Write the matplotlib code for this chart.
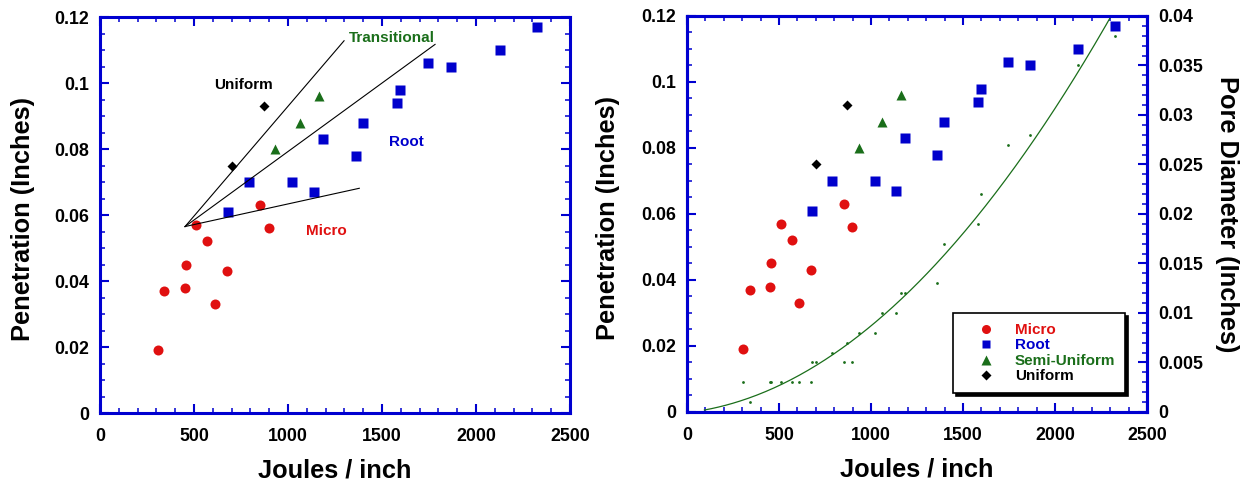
"""Penetration vs specific energy, with pore diameter overlay."""

import matplotlib

matplotlib.use("Agg")

import matplotlib.pyplot as plt
import numpy as np
from matplotlib.lines import Line2D
from matplotlib.ticker import FuncFormatter, MultipleLocator

# joules / inch, penetration (inches), pore diameter (inches)
micro_x = [307, 340, 452, 457, 511, 569, 610, 674, 853, 899]
micro_y = [0.019, 0.037, 0.038, 0.045, 0.057, 0.052, 0.033, 0.043, 0.063, 0.056]
micro_pore = [0.003, 0.001, 0.003, 0.003, 0.003, 0.003, 0.003, 0.003, 0.005, 0.005]

root_x = [680, 790, 1021, 1138, 1186, 1360, 1399, 1580, 1596, 1745, 1865, 2126, 2324]
root_y = [0.061, 0.070, 0.070, 0.067, 0.083, 0.078, 0.088, 0.094, 0.098, 0.106,
          0.105, 0.110, 0.117]
root_pore = [0.005, 0.006, 0.008, 0.010, 0.012, 0.013, 0.017, 0.019, 0.022, 0.027,
             0.028, 0.035, 0.038]

semi_x = [933, 1062, 1163]
semi_y = [0.080, 0.088, 0.096]
semi_pore = [0.008, 0.010, 0.012]

uniform_x = [700, 870]
uniform_y = [0.075, 0.093]
uniform_pore = [0.005, 0.007]

# regime boundary lines drawn on the left panel
fan_origin = (452, 0.0565)
fan_ends = [(1298, 0.1128), (1782, 0.1117), (1379, 0.0681)]

RED = "#e01010"
BLUE = "#0000cc"
GREEN = "#1a6e1a"
BLACK = "#000000"
AXIS_BLUE = "#0000d0"

plt.rcParams["font.family"] = ["Liberation Sans", "DejaVu Sans"]
plt.rcParams["font.weight"] = "bold"


def fmt(value, _pos):
    return f"{value:g}"


def style_axis(ax):
    for spine in ax.spines.values():
        spine.set_color(AXIS_BLUE)
        spine.set_linewidth(2.2)
    ax.tick_params(which="both", direction="in", color=AXIS_BLUE,
                   labelsize=12.8, labelcolor="black")
    ax.tick_params(which="major", length=6.5, width=1.5)
    ax.tick_params(which="minor", length=3.4, width=1.1)
    ax.tick_params(axis="x", pad=11)
    ax.tick_params(axis="y", pad=8)


def draw_points(ax):
    ax.plot(micro_x, micro_y, "o", color=RED, ms=7.2, mec="none")
    ax.plot(root_x, root_y, "s", color=BLUE, ms=7.0, mec="none")
    ax.plot(semi_x, semi_y, "^", color=GREEN, ms=7.5, mec="none")
    ax.plot(uniform_x, uniform_y, "D", color=BLACK, ms=5.2, mec="none")


def setup_penetration(ax):
    ax.set_xlim(0, 2500)
    ax.set_ylim(0, 0.12)
    ax.xaxis.set_major_locator(MultipleLocator(500))
    ax.xaxis.set_minor_locator(MultipleLocator(100))
    ax.yaxis.set_major_locator(MultipleLocator(0.02))
    ax.yaxis.set_minor_locator(MultipleLocator(0.005))
    ax.xaxis.set_major_formatter(FuncFormatter(fmt))
    ax.yaxis.set_major_formatter(FuncFormatter(fmt))
    ax.set_xlabel("Joules / inch", fontsize=18.3, fontweight="bold")
    ax.set_ylabel("Penetration (Inches)", fontsize=18.3, fontweight="bold")
    ax.xaxis.label.set_va("center")
    ax.yaxis.label.set_va("center")
    ax.xaxis.set_label_coords(0.5, -0.145)
    style_axis(ax)


fig = plt.figure(figsize=(12.49, 4.83), dpi=100)
ax_left = fig.add_axes([0.0801, 0.1449, 0.3763, 0.8199])
ax_right = fig.add_axes([0.5500, 0.1470, 0.3683, 0.8199])

# left panel: data with regime fan and labels
draw_points(ax_left)
for x_end, y_end in fan_ends:
    ax_left.plot([fan_origin[0], x_end], [fan_origin[1], y_end], color="black", lw=0.8)
ax_left.text(761, 0.0994, "Uniform", color=BLACK, fontsize=11, ha="center", va="center")
ax_left.text(1551, 0.1135, "Transitional", color=GREEN, fontsize=11, ha="center", va="center")
ax_left.text(1628, 0.0822, "Root", color=BLUE, fontsize=11, ha="center", va="center")
ax_left.text(1202, 0.0552, "Micro", color=RED, fontsize=11, ha="center", va="center")
setup_penetration(ax_left)
ax_left.tick_params(which="both", top=True, right=True)
ax_left.yaxis.set_label_coords(-0.164, 0.49)

# right panel: same data plus pore diameter on a second axis
draw_points(ax_right)
setup_penetration(ax_right)
ax_right.tick_params(which="both", top=True, right=False)
ax_right.yaxis.set_label_coords(-0.172, 0.49)

ax_pore = ax_right.twinx()
pore_x = np.array(micro_x + root_x + semi_x + uniform_x, dtype=float)
pore_y = np.array(micro_pore + root_pore + semi_pore + uniform_pore)
ax_pore.plot(pore_x, pore_y, "o", color=GREEN, ms=2.0, mec="none")
coef = np.polyfit(pore_x, pore_y, 2)
fit_x = np.linspace(95, 2400, 300)
ax_pore.plot(fit_x, np.polyval(coef, fit_x), color=GREEN, lw=0.9)
ax_pore.set_ylim(0, 0.04)
ax_pore.yaxis.set_major_locator(MultipleLocator(0.005))
ax_pore.yaxis.set_minor_locator(MultipleLocator(0.001))
ax_pore.yaxis.set_major_formatter(FuncFormatter(fmt))
ax_pore.set_ylabel("Pore Diameter (Inches)", fontsize=18.3, fontweight="bold", rotation=270)
ax_pore.yaxis.label.set_va("center")
ax_pore.yaxis.set_label_coords(1.174, 0.5)
style_axis(ax_pore)

handles = [
    Line2D([], [], ls="none", marker="o", color=RED, ms=6.5, mec="none"),
    Line2D([], [], ls="none", marker="s", color=BLUE, ms=6.0, mec="none"),
    Line2D([], [], ls="none", marker="^", color=GREEN, ms=6.5, mec="none"),
    Line2D([], [], ls="none", marker="D", color=BLACK, ms=4.8, mec="none"),
]
labels = ["Micro", "Root", "Semi-Uniform", "Uniform"]
legend = ax_pore.legend(
    handles, labels, loc="lower left", bbox_to_anchor=(0.578, 0.047),
    borderaxespad=0, fontsize=11, frameon=True, fancybox=False,
    shadow={"ox": 2.2, "oy": -2.2, "facecolor": "black", "edgecolor": "black", "alpha": 1},
    borderpad=0.65, handlelength=3.1, handletextpad=0.3, labelspacing=0.1,
)
legend.get_frame().set_edgecolor("black")
legend.get_frame().set_linewidth(1.2)
for text, color in zip(legend.get_texts(), [RED, BLUE, GREEN, BLACK]):
    text.set_color(color)

fig.savefig("out.png", dpi=100)
